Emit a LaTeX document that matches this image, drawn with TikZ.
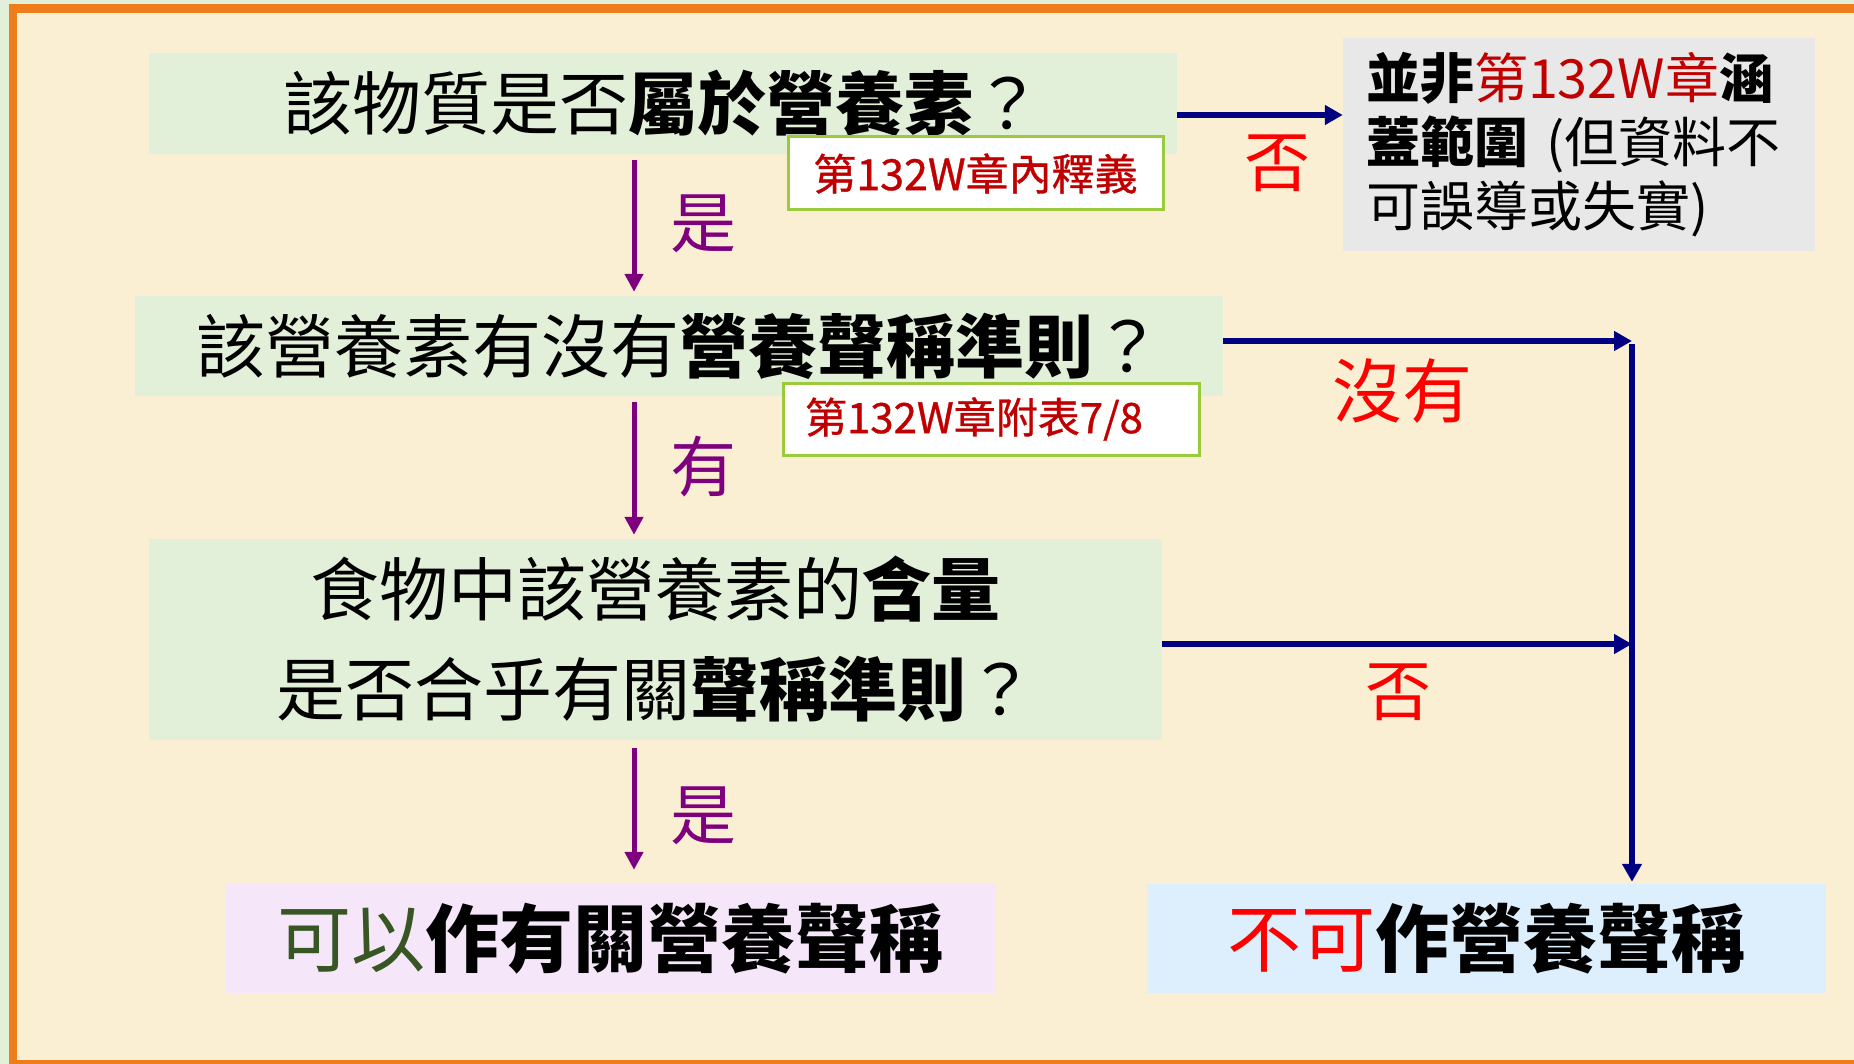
\documentclass[tikz,border=0pt]{standalone}
\usepackage{fontspec}
\setmainfont{Noto Sans CJK TC}
\newfontfamily\lblfont[FakeBold=0.8]{Noto Sans CJK TC}
\usetikzlibrary{arrows.meta,calc}
\definecolor{parch}{HTML}{FBEFD3}
\definecolor{topgreen}{HTML}{E2EFD9}
\definecolor{borderor}{HTML}{EE7D1A}
\definecolor{qgreen}{HTML}{E2EFD9}
\definecolor{greyc}{HTML}{E8E8E8}
\definecolor{pinkc}{HTML}{F5E6FA}
\definecolor{bluec}{HTML}{DDEFFC}
\definecolor{lgreen}{HTML}{9BCB3C}
\definecolor{dkred}{HTML}{C00000}
\definecolor{brred}{HTML}{FF0000}
\definecolor{purp}{HTML}{7F007F}
\definecolor{navy}{HTML}{000080}
\definecolor{dkgreen}{HTML}{375623}
\begin{document}
\begin{tikzpicture}[x=1pt,y=-1pt,
  qbox/.style={fill=qgreen, inner sep=0pt, font=\fontsize{69}{82}\selectfont, text=black},
  lbl/.style={draw=lgreen, line width=3pt, fill=white, inner sep=0pt, font=\lblfont\fontsize{42}{46}\selectfont, text=dkred},
  parr/.style={draw=purp, line width=5pt, -{Triangle[length=18pt,width=18pt]}},
  narr/.style={draw=navy, line width=6pt, -{Triangle[length=18pt,width=19pt]}},
  plab/.style={text=purp, inner sep=0pt, font=\fontsize{66}{70}\selectfont},
  rlab/.style={text=brred, inner sep=0pt, font=\fontsize{66}{70}\selectfont}]
\useasboundingbox (0,0) rectangle (1854,1064);
% background
\fill[topgreen] (0,0) rectangle (1854,1064);
\fill[parch] (13,8.5) rectangle (1880,1064);
\draw[borderor, line width=8.5pt] (13,8.5) rectangle (1880,1064);

% question boxes
\node[qbox, minimum width=1028, minimum height=101] (b1) at (663,103.5)
  {該物質是否{\bfseries 屬於營養素}？};
\node[qbox, minimum width=1088, minimum height=100] (b2) at (679,346)
  {該營養素有沒有{\bfseries 營養聲稱準則}？};
\node[qbox, minimum width=1013, minimum height=201, align=center,
  font=\fontsize{69}{100}\selectfont] (b3) at (655.5,639.5)
  {食物中該營養素的{\bfseries 含量}\\是否合乎有關{\bfseries 聲稱準則}？};

% result boxes
\node[fill=greyc, inner sep=0pt, inner xsep=23pt, minimum width=472, minimum height=213,
  text width=426pt, align=left, font=\fontsize{54}{64}\selectfont] (g) at (1579,144.5)
  {{\bfseries 並非}{\color{dkred}第132W章}{\bfseries 涵\\蓋範圍} (但資料不\\可誤導或失實)};
\node[fill=pinkc, inner sep=0pt, minimum width=771, minimum height=109,
  font=\fontsize{74}{80}\selectfont\bfseries] (b4) at (610.5,938.5)
  {{\mdseries\color{dkgreen}可以}作有關營養聲稱};
\node[fill=bluec, inner sep=0pt, minimum width=679, minimum height=109,
  font=\fontsize{74}{80}\selectfont\bfseries] (b5) at (1486.5,938.5)
  {{\mdseries\color{brred}不可}作營養聲稱};

% reference labels
\node[lbl, minimum width=375, minimum height=73, font=\lblfont\fontsize{43}{46}\selectfont]
  (l1) at (975.5,173.5) {第132W章內釋義};
\node[lbl, minimum width=416, minimum height=72, inner xsep=22pt, text width=372pt, align=left]
  (l2) at (991,419) {第132W章附表7/8};

% helper coordinates
\coordinate (ax) at (634,0);
\coordinate (vx) at (1632,0);
\coordinate (c1) at (1632,341);
\coordinate (c2) at (1632,644);
\coordinate (y1) at (0,115);

% purple arrows
\draw[parr, shorten <=6pt, shorten >=4pt] (b1.south -| ax) -- (b2.north -| ax);
\draw[parr, shorten <=6pt, shorten >=4pt] (b2.south -| ax) -- (b3.north -| ax);
\draw[parr, shorten <=8pt, shorten >=14pt] (b3.south -| ax) -- (b4.north -| ax);

% navy arrows
\draw[narr] (b1.east |- y1) -- (g.west |- y1);
\draw[narr] (b2.east |- c1) -- (c1);
\draw[narr] (b3.east |- c2) -- (c2);
\draw[narr, shorten >=2pt] ([yshift=-3pt]c1) -- (b5.north -| vx);

% connector labels
\node[plab] (t1) at (703,224) {是};
\node[plab] (t2) at (703,467) {有};
\node[plab] (t3) at (703,816) {是};
\node[rlab] (t4) at (1277,163) {否};
\node[rlab, font=\fontsize{70}{74}\selectfont] (t5) at (1402,391) {沒有};
\node[rlab] (t6) at (1398,692) {否};
\end{tikzpicture}
\end{document}
